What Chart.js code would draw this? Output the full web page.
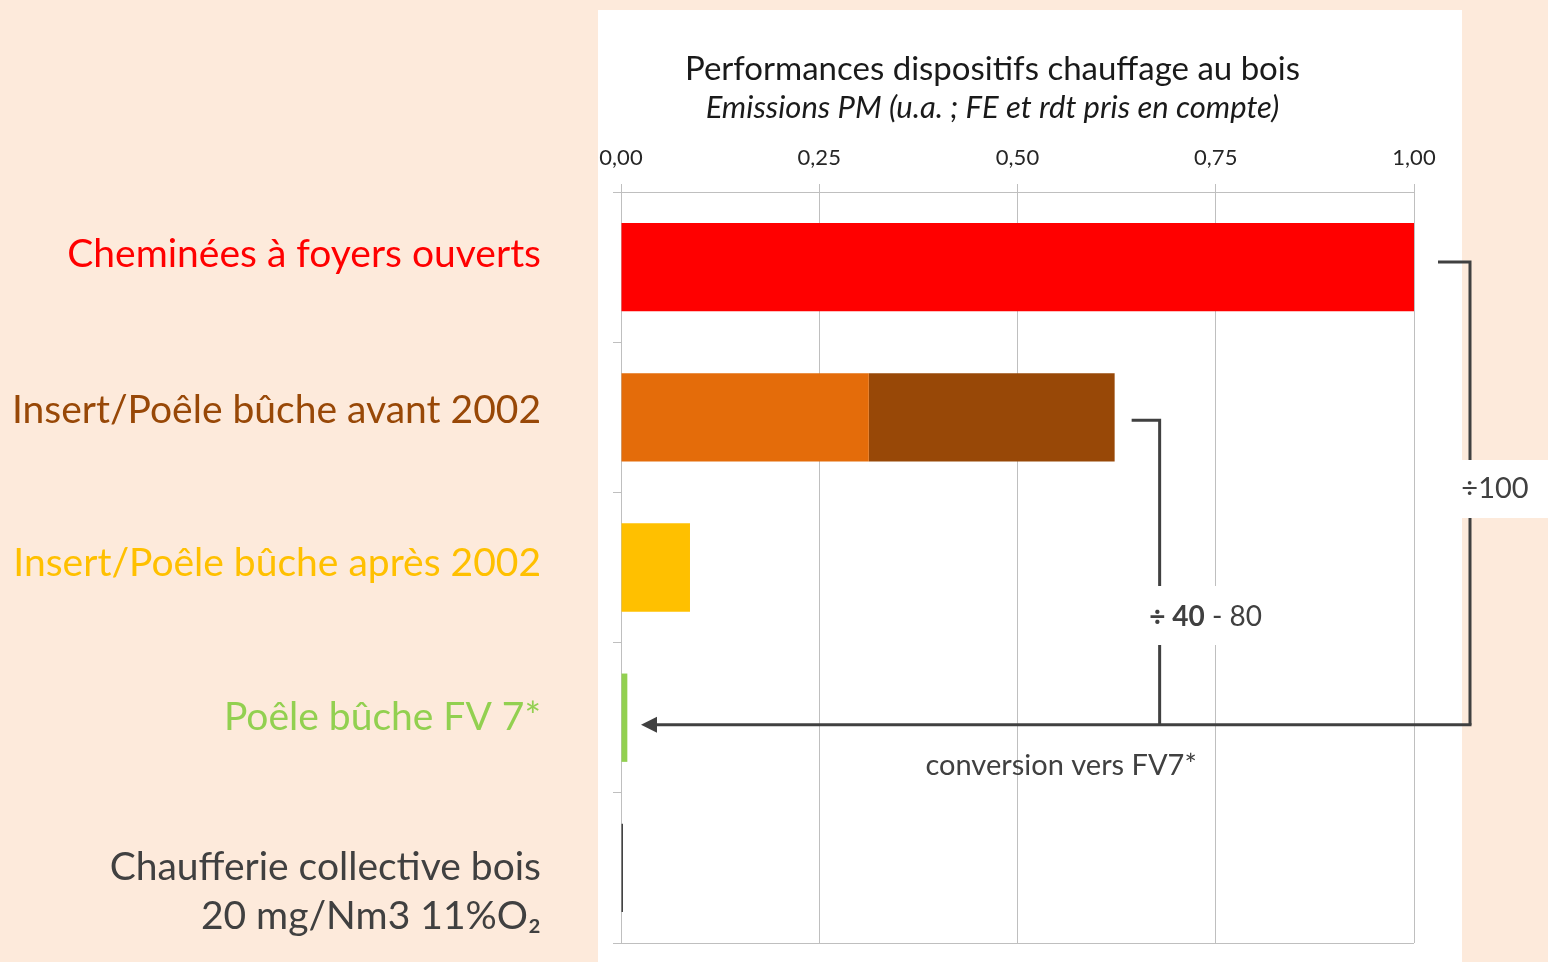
<!DOCTYPE html>
<html>
<head>
<meta charset="utf-8">
<script src="https://cdn.jsdelivr.net/npm/chart.js@4.4.1/dist/chart.umd.min.js"></script>
<style>
  html, body { margin: 0; padding: 0; background: #FDEADB; }
  #wrap { width: 1548px; height: 962px; position: relative; }
</style>
</head>
<body>
<div id="wrap"><canvas id="c" width="1548" height="962"></canvas></div>
<script>
// ---- data ----
const categories = [
  'Cheminées à foyers ouverts',
  'Insert/Poêle bûche avant 2002',
  'Insert/Poêle bûche après 2002',
  'Poêle bûche FV 7*',
  ['Chaufferie collective bois', '20 mg/Nm3 11%O₂']
];
const labelColors = ['#FF0000', '#984807', '#FFC000', '#92D050', '#404040'];
const baseValues = [1.00, 0.3125, 0.087, 0.008, 0.0025];
const baseColors = ['#FF0000', '#E46C0A', '#FFC000', '#92D050', '#404040'];
const extraValues = [null, 0.31, null, null, null];
const extraColor = '#984807';
const xTicks = [0, 0.25, 0.5, 0.75, 1.0];
const titleText = 'Performances dispositifs chauffage au bois';
const subtitleText = 'Emissions PM (u.a. ; FE et rdt pris en compte)';

const GRID = '#BFBFBF';
const INK = '#404040';
const FONT = 'Lato, "Open Sans", sans-serif';
const LABEL_SIZE = 39;
// small vertical nudges of the category labels (px, negative = up), as in the original slide
const labelNudge = [-12.5, -7, -4, 0, 0];

function tickLines(i) {
  const lab = categories[i];
  const lines = Array.isArray(lab) ? lab.slice() : [lab];
  if (lines.length > 1) return [''].concat(lines);     // keep first line on the tick
  if (labelNudge[i] !== 0) return lines.concat(['']);  // shift up by half a line
  return lines;
}
function tickLineHeight(i) {
  const lab = categories[i];
  if (Array.isArray(lab)) return 49 / LABEL_SIZE;
  const n = Math.abs(labelNudge[i]);
  return n ? (2 * n) / LABEL_SIZE : 1.2;
}

const decorPlugin = {
  id: 'decor',
  beforeDraw(chart) {
    const ctx = chart.ctx;
    const a = chart.chartArea;
    ctx.save();
    ctx.fillStyle = '#FDEADB';
    ctx.fillRect(0, 0, chart.width, chart.height);
    ctx.fillStyle = '#FFFFFF';
    ctx.fillRect(a.left - 23, 10, (a.right + 48) - (a.left - 23), chart.height - 10);
    ctx.restore();
  },
  afterDraw(chart) {
    const ctx = chart.ctx;
    const a = chart.chartArea;
    const xs = chart.scales.x, ys = chart.scales.y;
    ctx.save();
    // title
    const cx = (a.left + a.right) / 2 - 25;
    ctx.fillStyle = '#1A1A1A';
    ctx.textAlign = 'center';
    ctx.textBaseline = 'middle';
    ctx.font = '33px ' + FONT;
    ctx.fillText(titleText, cx, 69);
    ctx.font = 'italic 31px ' + FONT;
    ctx.fillText(subtitleText, cx, 108);

    // annotation geometry from scales
    const yRed = ys.getPixelForValue(0) - 5;
    const yOrange = ys.getPixelForValue(1) + 3;
    const yArrow = ys.getPixelForValue(3) + 7;
    const x1 = xs.getPixelForValue(1);
    const xBigH0 = x1 + 24, xBigV = x1 + 56;
    const xOr = xs.getPixelForValue(0.6225);
    const xSmH0 = xOr + 17, xSmV = xOr + 45;
    const xTip = xs.getPixelForValue(0) + 20;

    ctx.strokeStyle = INK;
    ctx.lineWidth = 3;
    ctx.lineCap = 'butt';
    ctx.lineJoin = 'miter';
    // big bracket
    ctx.beginPath();
    ctx.moveTo(xBigH0, yRed);
    ctx.lineTo(xBigV, yRed);
    ctx.lineTo(xBigV, yArrow);
    ctx.stroke();
    // small bracket
    ctx.beginPath();
    ctx.moveTo(xSmH0, yOrange);
    ctx.lineTo(xSmV, yOrange);
    ctx.lineTo(xSmV, yArrow);
    ctx.stroke();
    // arrow line
    ctx.beginPath();
    ctx.moveTo(xBigV + 1.5, yArrow);
    ctx.lineTo(xTip + 14, yArrow);
    ctx.stroke();
    ctx.fillStyle = INK;
    ctx.beginPath();
    ctx.moveTo(xTip, yArrow);
    ctx.lineTo(xTip + 16, yArrow - 8);
    ctx.lineTo(xTip + 16, yArrow + 8);
    ctx.closePath();
    ctx.fill();

    // label boxes
    ctx.fillStyle = '#FFFFFF';
    ctx.fillRect(x1 + 48, 460, chart.width - (x1 + 48), 58);
    ctx.fillRect(xSmV - 20, 586, 135, 59);

    ctx.fillStyle = INK;
    ctx.textBaseline = 'middle';
    ctx.textAlign = 'center';
    ctx.font = '29px ' + FONT;
    ctx.fillText('÷100', x1 + 81, 489);

    // ÷ 40 - 80 (bold part + regular part)
    ctx.font = 'bold 28px ' + FONT;
    const p1 = '÷ 40';
    const w1 = ctx.measureText(p1).width;
    ctx.font = '28px ' + FONT;
    const p2 = ' - 80';
    const w2 = ctx.measureText(p2).width;
    const startX = xSmV + 46 - (w1 + w2) / 2;
    ctx.textAlign = 'left';
    ctx.font = 'bold 28px ' + FONT;
    ctx.fillText(p1, startX, 617);
    ctx.font = '28px ' + FONT;
    ctx.fillText(p2, startX + w1, 617);

    ctx.textAlign = 'center';
    ctx.font = '29px ' + FONT;
    ctx.fillText('conversion vers FV7*', xs.getPixelForValue(0.555), yArrow + 41);
    ctx.restore();
  }
};

new Chart(document.getElementById('c'), {
  type: 'bar',
  data: {
    labels: categories,
    datasets: [
      { label: 'base', data: baseValues, backgroundColor: baseColors, borderWidth: 0,
        barPercentage: 0.588, categoryPercentage: 1 },
      { label: 'extra', data: extraValues, backgroundColor: extraColor, borderWidth: 0,
        barPercentage: 0.588, categoryPercentage: 1 }
    ]
  },
  options: {
    indexAxis: 'y',
    responsive: false,
    animation: false,
    devicePixelRatio: 1,
    layout: { padding: { top: 0, left: 0, right: 134, bottom: 19 } },
    plugins: {
      legend: { display: false },
      tooltip: { enabled: false },
      title: { display: false }
    },
    scales: {
      x: {
        position: 'top',
        stacked: true,
        min: 0, max: 1,
        afterFit(scale) { scale.height = 192; scale.paddingLeft = 0; scale.paddingRight = 0; },
        afterBuildTicks(scale) { scale.ticks = xTicks.map(v => ({ value: v })); },
        ticks: {
          color: '#262626',
          font: { family: FONT, size: 22 },
          padding: 13,
          maxRotation: 0,
          callback: (v) => Number(v).toFixed(2).replace('.', ',')
        },
        grid: { color: GRID, lineWidth: 1, tickLength: 8, drawTicks: true },
        border: { display: true, color: GRID, width: 1 }
      },
      y: {
        stacked: true,
        afterFit(scale) { scale.width = 621; scale.paddingTop = 0; scale.paddingBottom = 0; },
        ticks: {
          color: (c) => labelColors[c.index],
          font: (c) => ({ family: FONT, size: LABEL_SIZE, lineHeight: tickLineHeight(c.index) }),
          padding: 72,
          autoSkip: false,
          callback: (v, i) => tickLines(i)
        },
        grid: {
          offset: true,
          drawOnChartArea: true,
          color: (c) => c.type === 'scale' ? GRID : 'rgba(0,0,0,0)',
          tickColor: GRID,
          tickLength: 8,
          lineWidth: 1
        },
        border: { display: true, color: GRID, width: 1 }
      }
    }
  },
  plugins: [decorPlugin]
});
</script>
</body>
</html>
